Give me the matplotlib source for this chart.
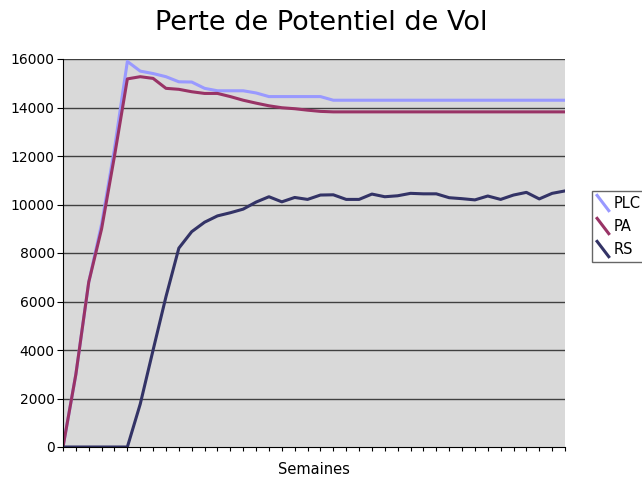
import matplotlib
matplotlib.use("Agg")
import matplotlib.pyplot as plt
from matplotlib.legend_handler import HandlerBase
from matplotlib.lines import Line2D

weeks = list(range(1, 41))
plc = [0, 3000, 6800, 9200, 12300, 15900, 15500, 15400, 15270, 15060,
       15050, 14790, 14690, 14690, 14690, 14600, 14450, 14450, 14450, 14450,
       14450, 14300, 14300, 14300, 14300, 14300, 14300, 14300, 14300, 14300,
       14300, 14300, 14300, 14300, 14300, 14300, 14300, 14300, 14300, 14300]
pa = [0, 3000, 6800, 9000, 12000, 15180, 15270, 15200, 14790, 14750,
      14650, 14580, 14580, 14450, 14300, 14180, 14070, 13990, 13950, 13890,
      13840, 13820, 13820, 13820, 13820, 13820, 13820, 13820, 13820, 13820,
      13820, 13820, 13820, 13820, 13820, 13820, 13820, 13820, 13820, 13820]
rs = [0, 0, 0, 0, 0, 0, 1770, 4000, 6200, 8200,
      8880, 9270, 9530, 9660, 9810, 10100, 10320, 10110, 10290, 10210,
      10390, 10400, 10210, 10210, 10430, 10320, 10360, 10460, 10440, 10440,
      10280, 10240, 10190, 10350, 10210, 10390, 10500, 10230, 10460, 10560]
series_names = ["PLC", "PA", "RS"]
colors = ["#9999ff", "#993366", "#333366"]
yticks = list(range(0, 16001, 2000))


class DiagHandler(HandlerBase):
    def create_artists(self, legend, orig_handle, xdescent, ydescent,
                       width, height, fontsize, trans):
        line = Line2D([0, width], [height * 1.25, -height * 0.25],
                      color=orig_handle.get_color(), linewidth=orig_handle.get_linewidth(),
                      transform=trans)
        return [line]


fig = plt.figure(figsize=(6.42, 4.83), dpi=100)
ax = fig.add_axes([63 / 642, 1 - 447 / 483, (565 - 63) / 642, (447 - 59) / 483])
ax.set_facecolor("#d9d9d9")

handles = []
for vals, name, c in zip([plc, pa, rs], series_names, colors):
    h, = ax.plot(weeks, vals, color=c, linewidth=2.2, label=name, solid_joinstyle="round")
    handles.append(h)

ax.set_xlim(weeks[0], weeks[-1])
ax.set_ylim(0, 16000)
ax.set_yticks(yticks)
ax.set_yticklabels([str(v) for v in yticks], fontsize=10)
ax.set_xticks(weeks)
ax.set_xticklabels([])
ax.tick_params(axis="x", length=3, direction="out", color="black", width=0.8)
ax.tick_params(axis="y", length=4, direction="out", color="black", pad=2)
for v in yticks[1:]:
    ax.axhline(v, color="#404040", linewidth=1.0, zorder=1)
ax.spines["right"].set_visible(False)
ax.spines["top"].set_visible(False)
ax.spines["left"].set_color("black")
ax.spines["bottom"].set_color("black")
ax.set_xlabel("Semaines", fontsize=10.5, labelpad=4)

fig.text(0.5, 1 - 23 / 483, "Perte de Potentiel de Vol", ha="center", va="center", fontsize=19.5)

leg = fig.legend(handles=handles, labels=series_names, loc="upper left",
                 bbox_to_anchor=(592 / 642, 1 - 191 / 483), fontsize=10.5,
                 handler_map={Line2D: DiagHandler()}, handlelength=0.8,
                 handletextpad=0.3, frameon=True, fancybox=False,
                 borderpad=0.35, labelspacing=0.55, borderaxespad=0)
leg.get_frame().set_edgecolor("#404040")
leg.get_frame().set_linewidth(1.0)

fig.savefig("out.png", dpi=100)
